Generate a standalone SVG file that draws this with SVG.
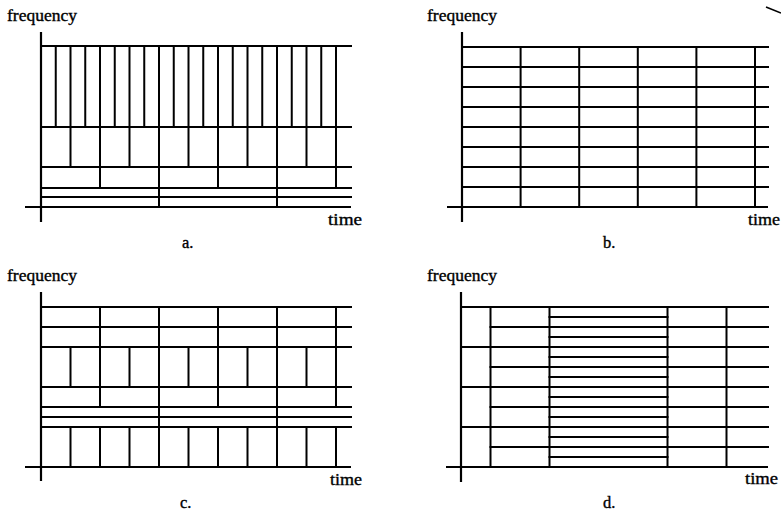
<svg xmlns="http://www.w3.org/2000/svg" width="781" height="511" viewBox="0 0 781 511">
  <style>
    .ln { stroke: #000; stroke-width: 2; fill: none; stroke-linecap: square; }
    .ax { stroke: #000; stroke-width: 2.2; fill: none; }
    text { font-family: 'Liberation Serif', 'DejaVu Serif', 'Times New Roman', serif; font-size: 16.5px; fill: #000; stroke: #000; stroke-width: 0.35; }
  </style>
  <rect width="781" height="511" fill="#fff"/>

  <!-- a: octave-band tiling, finer time cells at higher frequency -->
  <g id="panel-a">
    <path class="ax" d="M41,32 V222 M25,207 H351"/>
    <path class="ln" d="M41,46 H351 M41,127 H351 M41,167 H351 M41,188 H351 M41,197 H351"/>
    <path class="ln" d="M55.75,46 V127 M70.5,46 V127 M85.25,46 V127 M100,46 V127 M114.75,46 V127 M129.5,46 V127 M144.25,46 V127 M159,46 V127 M173.75,46 V127 M188.5,46 V127 M203.25,46 V127 M218,46 V127 M232.75,46 V127 M247.5,46 V127 M262.25,46 V127 M277,46 V127 M291.75,46 V127 M306.5,46 V127 M321.25,46 V127 M336,46 V127"/>
    <path class="ln" d="M70.5,127 V167 M100,127 V167 M129.5,127 V167 M159,127 V167 M188.5,127 V167 M218,127 V167 M247.5,127 V167 M277,127 V167 M306.5,127 V167 M336,127 V167"/>
    <path class="ln" d="M100,167 V188 M159,167 V188 M218,167 V188 M277,167 V188 M336,167 V188"/>
    <path class="ln" d="M159,188 V207 M277,188 V207"/>
    <text x="7" y="21" textLength="70" lengthAdjust="spacingAndGlyphs">frequency</text>
    <text x="328" y="225" textLength="34" lengthAdjust="spacingAndGlyphs">time</text>
    <text x="182" y="248">a.</text>
  </g>

  <!-- b: uniform grid -->
  <g id="panel-b">
    <path class="ax" d="M462,32 V222 M447,207 H768"/>
    <path class="ln" d="M462,47 H768 M462,67 H768 M462,87 H768 M462,107 H768 M462,127 H768 M462,147 H768 M462,167 H768 M462,187 H768"/>
    <path class="ln" d="M520.6,47 V207 M579.2,47 V207 M637.8,47 V207 M696.4,47 V207 M755,47 V207"/>
    <text x="427" y="21" textLength="70" lengthAdjust="spacingAndGlyphs">frequency</text>
    <text x="748" y="225" textLength="32" lengthAdjust="spacingAndGlyphs">time</text>
    <text x="603" y="248">b.</text>
  </g>

  <!-- c: mixed-band tiling -->
  <g id="panel-c">
    <path class="ax" d="M41,292 V481 M25,467 H351"/>
    <path class="ln" d="M41,307 H351 M41,327 H351 M41,347 H351 M41,387 H351 M41,407 H351 M41,417 H351 M41,427 H351"/>
    <path class="ln" d="M100,307 V347 M159,307 V347 M218,307 V347 M277,307 V347 M336,307 V347"/>
    <path class="ln" d="M70.5,347 V387 M100,347 V387 M129.5,347 V387 M159,347 V387 M188.5,347 V387 M218,347 V387 M247.5,347 V387 M277,347 V387 M306.5,347 V387 M336,347 V387"/>
    <path class="ln" d="M100,387 V407 M159,387 V407 M218,387 V407 M277,387 V407 M336,387 V407"/>
    <path class="ln" d="M159,407 V427 M277,407 V427"/>
    <path class="ln" d="M70.5,427 V467 M100,427 V467 M129.5,427 V467 M159,427 V467 M188.5,427 V467 M218,427 V467 M247.5,427 V467 M277,427 V467 M306.5,427 V467 M336,427 V467"/>
    <text x="7" y="281" textLength="70" lengthAdjust="spacingAndGlyphs">frequency</text>
    <text x="330" y="485" textLength="32" lengthAdjust="spacingAndGlyphs">time</text>
    <text x="180" y="508">c.</text>
  </g>

  <!-- d: time-varying column tiling -->
  <g id="panel-d">
    <path class="ax" d="M461,292 V482 M446,467 H768"/>
    <path class="ln" d="M461,307 H768 M461,347 H768 M461,387 H768 M461,427 H768"/>
    <path class="ln" d="M490.5,327 H768 M490.5,367 H768 M490.5,407 H768 M490.5,447 H768"/>
    <path class="ln" d="M549.5,317 H667.5 M549.5,337 H667.5 M549.5,357 H667.5 M549.5,377 H667.5 M549.5,397 H667.5 M549.5,417 H667.5 M549.5,437 H667.5 M549.5,457 H667.5"/>
    <path class="ln" d="M490.5,307 V467 M549.5,307 V467 M667.5,307 V467 M726.5,307 V467"/>
    <text x="427" y="281" textLength="70" lengthAdjust="spacingAndGlyphs">frequency</text>
    <text x="745" y="484" textLength="33" lengthAdjust="spacingAndGlyphs">time</text>
    <text x="603" y="508">d.</text>
  </g>

  <!-- stray pen mark, top right corner -->
  <path d="M766,7 L781,13" stroke="#000" stroke-width="1.6" fill="none"/>
</svg>
